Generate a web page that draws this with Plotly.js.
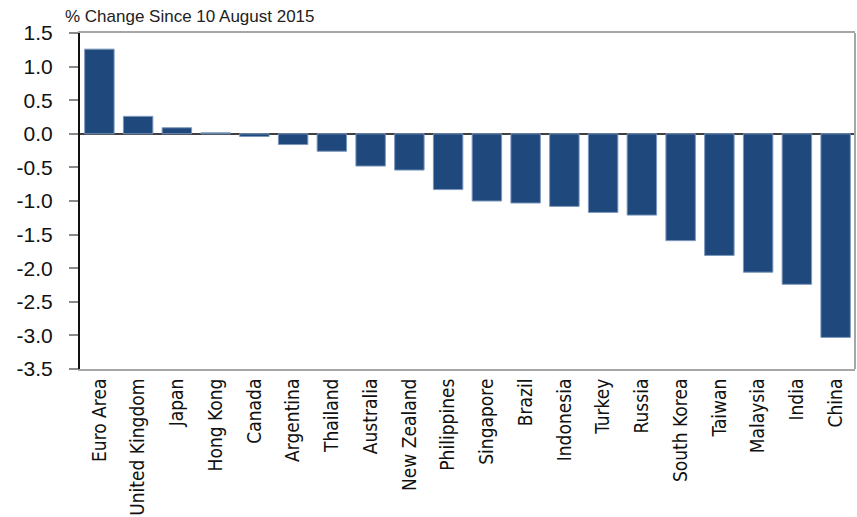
<!DOCTYPE html>
<html>
<head>
<meta charset="utf-8">
<script src="https://cdn.plot.ly/plotly-3.0.1.min.js"></script>
<style>html,body{margin:0;padding:0;background:#fff;}#chart{width:857px;height:517px;}</style>
</head>
<body>
<div id="chart"></div>
<script>
const countries = ["Euro Area","United Kingdom","Japan","Hong Kong","Canada","Argentina","Thailand","Australia","New Zealand","Philippines","Singapore","Brazil","Indonesia","Turkey","Russia","South Korea","Taiwan","Malaysia","India","China"];
const changes = [1.26,0.26,0.09,0.015,-0.04,-0.16,-0.26,-0.48,-0.54,-0.83,-1.0,-1.03,-1.08,-1.17,-1.21,-1.59,-1.81,-2.06,-2.24,-3.03];
const yTickVals = [1.5,1.0,0.5,0.0,-0.5,-1.0,-1.5,-2.0,-2.5,-3.0,-3.5];
const yTickText = ["1.5","1.0","0.5","0.0","-0.5","-1.0","-1.5","-2.0","-2.5","-3.0","-3.5"];
const titleText = "% Change Since 10 August 2015";

const trace = {
  type: "bar",
  x: countries,
  y: changes,
  marker: {color: "#1f497d", line: {color: "#7d98bd", width: 1}},
  hoverinfo: "x+y"
};

const layout = {
  width: 857, height: 517,
  margin: {l: 80, r: 2, t: 33, b: 148, pad: 0},
  paper_bgcolor: "#ffffff", plot_bgcolor: "#ffffff",
  showlegend: false,
  bargap: 0.24,
  title: {
    text: titleText,
    xref: "container", yref: "container",
    x: 65/857, xanchor: "left",
    y: 1 - 16/517, yanchor: "middle",
    font: {family: "Liberation Sans, Arial, sans-serif", size: 17, color: "#222"}
  },
  xaxis: {
    type: "category",
    tickangle: -90,
    ticks: "",
    showgrid: false,
    zeroline: false,
    showline: true, linecolor: "#a6a6a6", linewidth: 2, mirror: true,
    tickfont: {family: "Liberation Sans Narrow, DejaVu Sans Condensed, Arial Narrow, sans-serif", size: 19, color: "#111"},
    fixedrange: true
  },
  yaxis: {
    range: [-3.5, 1.5],
    tickvals: yTickVals,
    ticktext: yTickText,
    ticks: "outside", ticklen: 9, tickwidth: 2, tickcolor: "#8a8a8a",
    showgrid: false,
    zeroline: true, zerolinecolor: "#404040", zerolinewidth: 2,
    showline: true, linecolor: "#111", linewidth: 2,
    tickfont: {family: "Liberation Sans, Arial, sans-serif", size: 21, color: "#111"},
    ticklabelstandoff: 12,
    fixedrange: true
  },
  shapes: [
    {type: "line", xref: "paper", yref: "paper", x0: 1, x1: 1, y0: 0, y1: 1, line: {color: "#a6a6a6", width: 2}}
  ]
};

Plotly.newPlot("chart", [trace], layout, {displayModeBar: false, staticPlot: true});
</script>
</body>
</html>
